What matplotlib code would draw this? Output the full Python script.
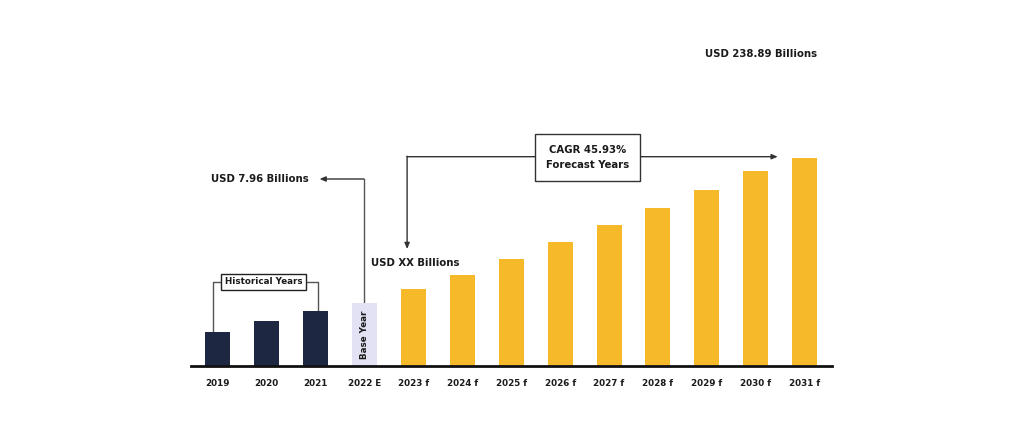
import matplotlib
matplotlib.use("Agg")
import matplotlib.pyplot as plt

# ---- data (relative bar heights) ----
years = ["2019", "2020", "2021", "2022 E", "2023 f", "2024 f", "2025 f",
         "2026 f", "2027 f", "2028 f", "2029 f", "2030 f", "2031 f"]
historical = [34, 45, 55]
base_year = [63]
forecast = [77, 91, 107, 124, 141, 158, 176, 195, 208]

values = historical + base_year + forecast
navy = "#1d2742"
lavender = "#e2e2f4"
yellow = "#f6b929"
colors = [navy] * len(historical) + [lavender] * len(base_year) + [yellow] * len(forecast)

plt.rcParams['font.family'] = ['DejaVu Sans']

fig = plt.figure(figsize=(10.24, 4.32), dpi=100)
ax = fig.add_axes([191 / 1024, 66 / 432, 641 / 1024, 366 / 432])
x = list(range(len(years)))
ax.bar(x, values, width=0.51, color=colors, zorder=2)
ax.set_xlim(-0.55, 12.56)
ax.set_ylim(0, 366)

for s in ["top", "right", "left"]:
    ax.spines[s].set_visible(False)
ax.spines["bottom"].set_linewidth(2)
ax.spines["bottom"].set_color("#111111")
ax.set_yticks([])
ax.set_xticks(x)
ax.set_xticklabels(years, fontsize=6.3, fontweight="bold", color="#1a1a1a")
ax.tick_params(axis="x", length=0, pad=9)

lc = "#555555"
lw = 1.0
txt = dict(fontweight="bold", color="#1a1a1a")

# Base Year label inside bar
ax.text(3, 31, "Base Year", rotation=90, ha="center", va="center", fontsize=6.3, **txt)

# Historical Years bracket
hy = 84
ax.plot([-0.102, -0.102, 2.04, 2.04], [values[0], hy, hy, values[2]], color=lc, lw=lw, zorder=1, clip_on=False)
ax.text(0.93, hy, "Historical Years", ha="center", va="center", fontsize=6.3, zorder=4,
        bbox=dict(boxstyle="square,pad=0.45", fc="white", ec="#222222", lw=1.0), **txt)

# Base year -> USD 7.96 Billions
by = 187
ax.plot([2.98, 2.98], [values[3], by], color=lc, lw=lw, zorder=1)
ax.annotate("", xy=(2.08, by), xytext=(2.985, by),
            arrowprops=dict(arrowstyle="-|>,head_length=0.35,head_width=0.15", color="#333333", lw=lw, shrinkA=0, shrinkB=0))
ax.text(1.86, by, "USD 7.96 Billions", ha="right", va="center", fontsize=7.3, **txt)

# CAGR bracket
cy = 209.3
ax.annotate("", xy=(11.45, cy), xytext=(3.865, cy),
            arrowprops=dict(arrowstyle="-|>,head_length=0.35,head_width=0.15", color="#333333", lw=lw, shrinkA=0, shrinkB=0))
ax.annotate("", xy=(3.87, 117), xytext=(3.87, cy + 0.5),
            arrowprops=dict(arrowstyle="-|>,head_length=0.35,head_width=0.15", color="#333333", lw=lw, shrinkA=0, shrinkB=0))
ax.text(7.56, 208.5, "CAGR 45.93%\nForecast Years", ha="center", va="center", fontsize=7.3,
        linespacing=1.6, zorder=4,
        bbox=dict(boxstyle="square,pad=1.1", fc="white", ec="#333333", lw=1.0), **txt)

ax.text(3.13, 103.3, "USD XX Billions", ha="left", va="center", fontsize=7.3, **txt)
ax.text(12.25, 312, "USD 238.89 Billions", ha="right", va="center", fontsize=7.3, **txt)

fig.savefig("out.png", dpi=100, facecolor="white")
